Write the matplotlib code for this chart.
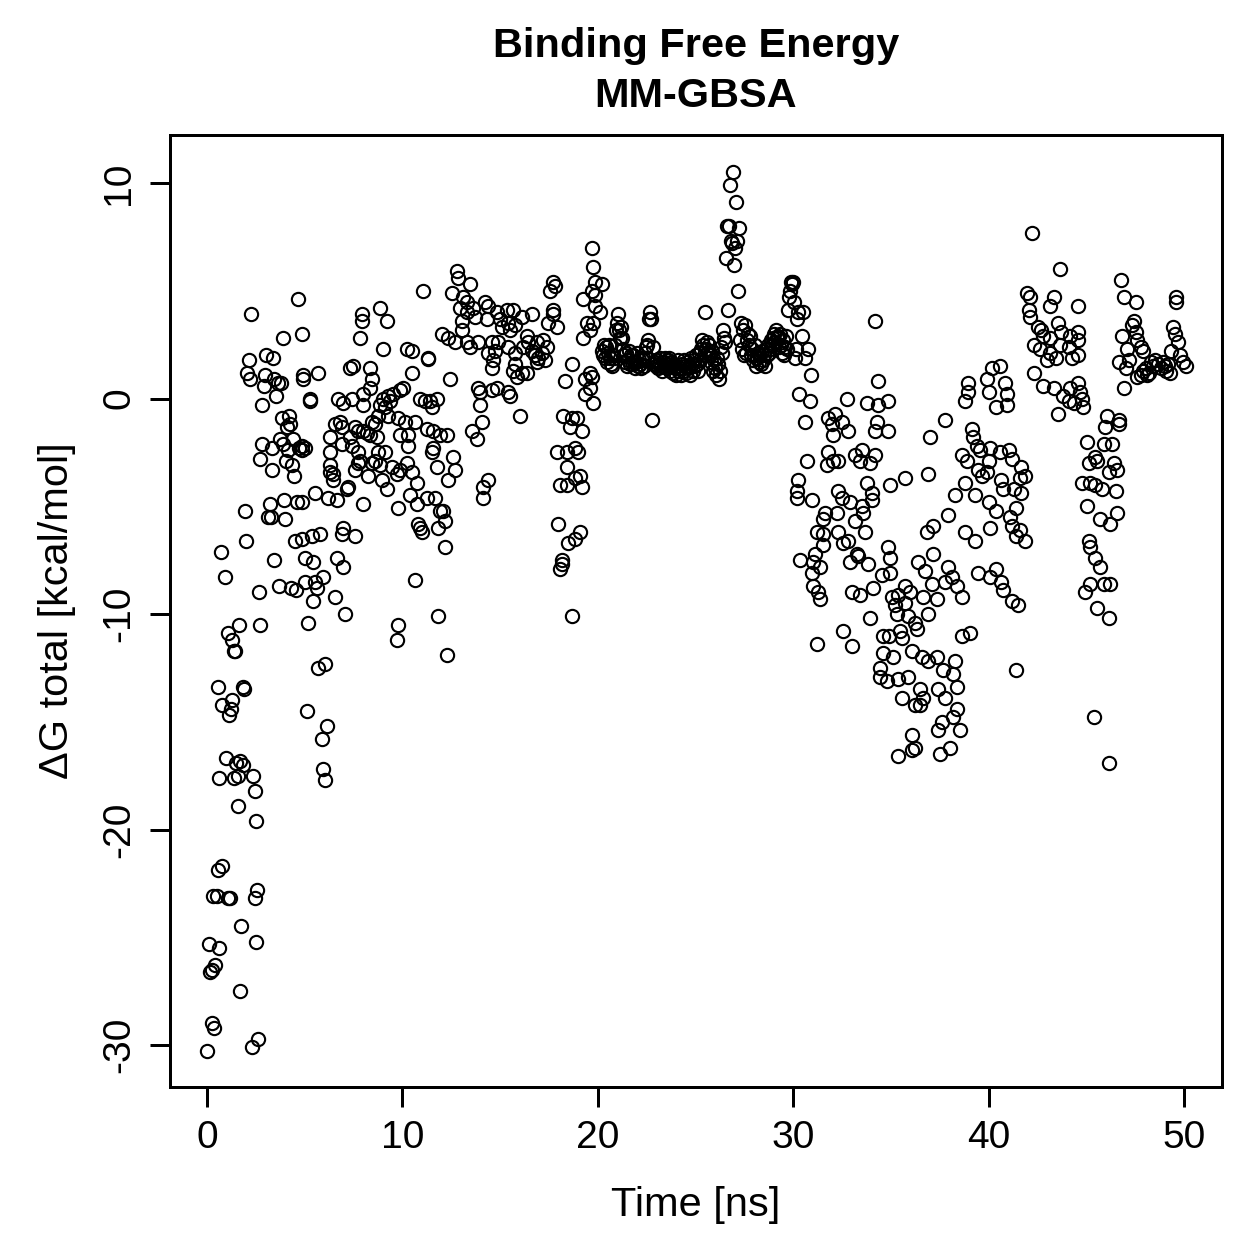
import matplotlib
matplotlib.use('Agg')
import matplotlib.pyplot as plt

plt.rcParams['font.family'] = ['Liberation Sans', 'DejaVu Sans']

# (time [ns], dG total [kcal/mol]), grouped by time window
seg_0_3 = [
    (0.00, -30.3), (0.10, -25.3), (0.15, -26.6), (0.26, -26.5), (0.41, -26.3),
    (0.25, -29.0), (0.36, -29.2), (0.61, -25.5), (0.31, -23.1), (0.51, -23.1),
    (0.55, -21.9), (0.77, -21.7), (1.07, -23.2), (1.18, -23.2), (0.56, -13.4),
    (0.77, -14.2), (0.72, -7.1), (0.92, -8.3), (0.61, -17.6), (0.97, -16.7),
    (1.13, -14.7), (1.23, -14.4), (1.28, -14.0), (1.07, -10.9), (1.28, -11.2),
    (1.38, -11.7), (1.43, -11.7), (1.38, -17.6), (1.48, -16.9), (1.59, -17.5),
    (1.64, -10.5), (1.69, -16.8), (1.84, -17.0), (1.59, -18.9), (1.84, -13.4),
    (1.89, -13.5), (1.74, -24.5), (1.69, -27.5), (2.35, -17.5), (2.46, -18.2),
    (2.51, -19.6), (2.46, -23.2), (2.56, -22.8), (2.51, -25.2), (2.30, -30.1),
    (2.61, -29.7), (2.00, -6.6), (1.94, -5.2), (2.05, 1.2), (2.15, 1.8),
    (2.20, 0.9), (2.25, 3.9), (2.66, -9.0), (2.71, -10.5), (2.81, -2.1),
    (2.71, -2.8), (2.81, -0.3), (2.92, 0.6), (3.02, 2.0), (2.97, 1.1),
]

seg_3_5 = [
    (3.12, -5.5), (3.22, -4.9), (3.28, -5.5), (3.33, -3.3), (3.35, -2.3),
    (3.43, -7.5), (3.45, 0.9), (3.38, 1.9), (3.53, 0.1), (3.63, 0.7),
    (3.74, -1.9), (3.79, 0.7), (3.84, -0.9), (3.89, -2.1), (3.90, 2.8),
    (3.94, -4.7), (3.99, -5.6), (4.04, -2.9), (4.09, -1.3), (4.15, -2.4),
    (4.20, -0.8), (4.25, -1.2), (4.30, -8.8), (4.35, -3.1), (4.40, -1.9),
    (4.45, -3.6), (4.50, -6.6), (4.55, -8.9), (4.61, -4.8), (4.66, 4.6),
    (4.71, -2.3), (3.68, -8.7),
]

seg_5_10 = [
    (4.88, 3.0), (7.93, 3.9), (7.95, 3.6), (8.85, 4.2), (9.21, 3.6),
    (7.83, 2.8), (9.01, 2.3), (4.91, 1.1), (4.93, 0.9), (5.68, 1.2),
    (7.32, 1.4), (7.47, 1.5), (8.34, 1.4), (8.44, 0.9), (8.36, 0.5),
    (5.27, 0.0), (5.29, -0.1), (6.70, 0.0), (7.42, 0.0), (7.98, 0.2),
    (6.96, -0.2), (8.00, -0.3), (9.00, 0.0), (9.26, 0.1), (9.52, 0.2),
    (9.37, -0.1), (8.85, -0.3), (9.11, -0.4), (8.75, -0.8), (9.28, -0.8),
    (9.88, 0.4), (9.77, -0.9), (6.55, -1.2), (6.81, -1.1), (6.91, -1.3),
    (7.57, -1.3), (7.73, -1.5), (7.99, -1.5), (8.19, -1.6), (8.35, -1.7),
    (8.60, -1.2), (8.70, -1.8), (8.45, -1.1), (9.89, -1.7), (6.29, -1.8),
    (6.92, -2.1), (7.33, -1.8), (7.43, -2.2), (4.87, -2.2), (5.02, -2.3),
    (4.85, -2.4), (6.30, -2.5), (7.74, -2.5), (8.76, -2.5), (9.12, -2.5),
    (7.84, -2.9), (8.61, -2.9), (6.28, -3.1), (7.72, -3.0), (6.31, -3.4),
    (6.45, -3.5), (7.58, -3.3), (8.43, -3.0), (8.86, -3.1), (9.47, -3.2),
    (9.87, -3.3), (9.72, -3.5), (6.46, -3.8), (8.24, -3.6), (8.96, -3.8),
    (7.22, -4.1), (7.17, -4.2), (9.22, -4.2), (4.86, -4.8), (5.53, -4.4),
    (6.19, -4.6), (6.66, -4.7), (7.97, -4.9), (9.78, -5.1), (4.84, -6.5),
    (5.37, -6.4), (5.78, -6.3), (6.97, -6.0), (6.90, -6.3), (7.59, -6.4),
    (5.03, -7.4), (5.42, -7.6), (6.64, -7.4), (6.95, -7.8), (5.01, -8.5),
    (5.52, -8.5), (5.94, -8.3), (5.63, -8.8), (5.43, -9.4), (6.56, -9.2),
    (5.17, -10.4), (7.06, -10.0), (9.76, -10.5), (9.73, -11.2), (5.69, -12.5),
    (6.04, -12.3), (5.12, -14.5), (6.14, -15.2), (5.89, -15.8), (5.95, -17.2),
    (6.05, -17.7),
]

seg_10_15 = [
    (12.79, 5.9), (12.85, 5.6), (11.05, 5.0), (13.46, 5.3), (12.54, 4.9),
    (13.10, 4.7), (13.31, 4.5), (14.23, 4.5), (12.95, 4.2), (13.61, 4.2),
    (14.38, 4.3), (13.33, 4.0), (13.72, 3.8), (14.33, 3.7), (13.05, 3.6),
    (14.84, 4.0), (13.04, 3.2), (12.03, 3.0), (12.33, 2.8), (12.69, 2.6),
    (13.30, 2.6), (13.45, 2.4), (13.87, 2.6), (14.59, 2.6), (14.74, 2.2),
    (14.40, 2.1), (14.64, 1.8), (14.60, 1.4), (10.24, 2.3), (10.49, 2.2),
    (11.31, 1.9), (11.33, 1.85), (10.50, 1.2), (12.44, 0.9), (10.03, 0.5),
    (13.88, 0.5), (13.97, 0.3), (14.58, 0.4), (13.98, -0.3), (10.90, 0.0),
    (11.16, -0.1), (11.41, -0.1), (11.77, 0.0), (11.51, -0.4), (10.13, -1.1),
    (10.64, -1.1), (10.29, -1.7), (11.26, -1.4), (11.57, -1.5), (11.92, -1.7),
    (12.28, -1.7), (14.07, -1.1), (13.56, -1.5), (13.82, -1.9), (10.30, -2.2),
    (11.58, -2.3), (11.52, -2.5), (12.59, -2.7), (12.70, -3.3), (12.34, -3.8),
    (11.78, -3.2), (10.25, -3.0), (10.48, -3.4), (10.75, -3.9), (10.39, -4.5),
    (11.27, -4.6), (11.67, -4.6), (10.76, -4.9), (11.93, -5.2), (12.08, -5.2),
    (12.18, -5.7), (11.82, -6.0), (10.80, -5.8), (10.91, -6.0), (11.00, -6.2),
    (14.39, -3.8), (14.12, -4.1), (14.13, -4.6), (12.19, -6.9), (10.65, -8.4),
    (11.83, -10.1), (12.29, -11.9),
]

seg_15_20 = [
    (19.70, 7.0), (19.75, 6.1), (17.71, 5.4), (17.81, 5.2), (17.55, 5.0),
    (19.86, 5.4), (19.72, 5.0), (19.24, 4.6), (19.88, 4.8), (19.85, 4.3),
    (15.35, 4.1), (15.66, 4.1), (16.63, 3.9), (16.12, 3.8), (17.72, 4.1),
    (17.70, 3.9), (17.45, 3.5), (17.91, 3.3), (14.99, 3.7), (15.40, 3.5),
    (15.10, 3.3), (15.51, 3.2), (15.76, 3.4), (16.38, 2.9), (16.43, 2.6),
    (16.89, 2.6), (17.20, 2.7), (17.40, 2.4), (14.89, 2.6), (15.42, 2.4),
    (15.78, 2.1), (16.17, 2.4), (16.64, 2.2), (16.79, 2.0), (17.14, 2.1),
    (16.90, 1.7), (16.94, 1.9), (17.30, 1.8), (19.45, 3.5), (19.25, 2.8),
    (19.60, 3.2), (19.77, 3.5), (15.77, 1.6), (15.67, 1.3), (16.13, 1.2),
    (16.37, 1.2), (15.86, 1.0), (18.68, 1.6), (18.32, 0.8), (19.61, 1.2),
    (19.35, 0.9), (19.71, 1.0), (19.59, 0.5), (19.34, 0.2), (19.76, -0.2),
    (14.85, 0.5), (15.41, 0.3), (15.50, 0.1), (16.02, -0.8), (18.22, -0.8),
    (18.69, -0.9), (18.94, -0.9), (18.58, -1.3), (19.19, -1.5), (17.92, -2.5),
    (18.42, -2.5), (18.83, -2.3), (18.99, -2.5), (18.43, -3.2), (18.07, -4.0),
    (18.41, -4.0), (18.84, -3.7), (19.09, -3.6), (19.20, -4.1), (17.96, -5.8),
    (18.48, -6.7), (18.85, -6.5), (19.10, -6.2), (18.17, -7.5), (18.18, -7.7),
    (18.06, -7.9), (18.70, -10.1), (20.21, 5.3), (20.11, 4.0),
]

# 20-30 ns: regularly sampled frames, start time and spacing below
band_t0 = 20.2
band_dt = 0.051
band_dg = [
    2.2, 2.0, 2.5, 1.9, 2.4, 1.7, 2.1, 2.5, 1.9, 1.6, 1.5, 2.0,
    1.9, 2.5, 3.2, 3.5, 3.9, 3.2, 2.8, 3.3, 2.8, 2.3, 2.0, 1.7, 2.1, 1.5, 1.8, 2.2, 1.6, 2.0, 1.7,
    2.0, 1.7, 1.4, 1.7, 2.1, 1.5, 1.8, 1.6, 1.4, 1.8, 1.9, 1.5, 2.1, 2.4, 2.5, 2.7, 3.7, 4.0, 3.7, -1.0, 2.4, 1.6,
    1.7, 1.5, 1.8, 1.4, 1.6, 1.9, 1.5, 1.3, 1.7, 1.5, 1.9, 1.6, 1.4, 1.8, 1.6, 1.9, 1.3, 1.7, 1.5, 1.2,
    1.6, 1.4, 1.1, 1.5, 1.8, 1.3, 1.4, 1.1, 1.6, 1.3, 1.8, 1.5, 1.2, 1.7, 1.4, 1.5, 1.1, 1.9, 1.6, 1.3,
    1.8, 1.5, 2.0, 1.6, 1.3, 2.1, 1.8, 2.3, 2.7, 2.5, 2.0, 4.0, 2.3, 2.6, 2.1, 2.5, 2.0, 1.7, 2.2, 1.3,
    1.8, 1.4, 1.1, 1.9, 1.6, 0.9, 1.3, 2.4, 2.1, 3.2, 2.8, 2.6, 6.5, 8.0, 4.1, 8.0, 9.9, 7.3, 7.2, 10.5,
    6.2, 7.0, 9.1, 7.3, 5.0, 7.9,
    2.7, 3.5, 2.3, 3.2, 2.0, 3.4, 2.1, 2.7, 3.0, 2.5, 2.9, 2.0, 2.3, 1.8, 2.0, 2.5, 1.5, 1.9, 2.1, 1.7,
    2.0, 1.6, 2.2, 1.8, 2.0, 1.5, 2.3, 2.0, 2.5, 2.1, 2.3, 2.7, 2.5, 2.8, 3.0, 2.6, 3.2, 2.8, 2.9, 2.4,
    3.0, 2.5, 2.1, 2.7, 2.0, 2.4, 2.9, 2.3, 4.1, 4.7, 5.0, 5.4, 5.3, 5.4, 4.5, 1.9, 2.3, 3.7, 4.0, 0.2,
]

seg_30_35 = [
    (30.50, 4.0), (34.19, 3.6), (30.45, 2.9), (30.76, 2.3), (30.60, 1.9),
    (30.91, 1.1), (30.86, -0.1), (32.75, 0.0), (33.78, -0.2), (34.34, 0.8),
    (34.36, -0.3), (30.62, -1.1), (31.78, -0.9), (32.14, -0.7), (31.99, -1.2),
    (32.50, -1.1), (32.80, -1.5), (32.04, -1.7), (34.29, -1.1), (34.20, -1.5),
    (30.71, -2.9), (31.79, -2.5), (31.73, -3.1), (32.05, -2.9), (32.29, -2.9),
    (33.16, -2.6), (33.52, -2.4), (33.42, -2.9), (33.93, -3.0), (34.18, -2.6),
    (30.25, -3.8), (30.19, -4.3), (30.20, -4.6), (30.96, -4.7), (32.30, -4.3),
    (32.51, -4.6), (32.91, -4.8), (33.77, -3.9), (34.03, -4.4), (34.04, -4.7),
    (33.53, -5.0), (33.57, -5.3), (31.63, -5.3), (32.24, -5.3), (31.53, -5.6),
    (33.17, -5.7), (31.22, -6.2), (31.54, -6.3), (32.28, -6.2), (32.55, -6.7),
    (32.81, -6.6), (31.52, -6.8), (33.67, -6.2), (30.35, -7.5), (31.12, -7.2),
    (31.01, -7.6), (31.37, -7.8), (30.97, -8.1), (32.90, -7.6), (33.27, -7.2),
    (33.32, -7.3), (33.83, -7.7), (34.54, -8.2), (31.02, -8.7), (31.27, -9.0),
    (31.38, -9.3), (33.01, -9.0), (33.43, -9.1), (34.08, -8.8), (33.94, -10.2),
    (32.56, -10.8), (34.60, -11.0), (31.21, -11.4), (33.00, -11.5), (34.61, -11.8),
    (34.44, -12.5), (34.45, -12.9),
]

seg_35_40 = [
    (38.95, 0.7), (38.96, 0.3), (38.79, -0.1), (37.77, -1.0), (37.00, -1.8),
    (34.85, -0.1), (34.86, -1.5), (39.15, -1.4), (39.20, -1.8), (39.41, -2.2),
    (39.56, -2.4), (38.64, -2.6), (38.89, -2.9), (39.46, -3.3), (39.66, -3.6),
    (38.80, -3.9), (39.30, -4.5), (38.28, -4.5), (36.90, -3.5), (35.72, -3.7),
    (34.95, -4.0), (37.92, -5.4), (37.15, -5.9), (36.85, -6.2), (38.78, -6.2),
    (39.31, -6.6), (34.87, -6.9), (34.96, -7.4), (37.16, -7.2), (36.39, -7.6),
    (36.75, -8.0), (37.93, -7.8), (38.13, -8.3), (39.45, -8.1), (38.38, -8.7),
    (34.97, -8.1), (37.10, -8.6), (37.78, -8.5), (35.73, -8.7), (35.98, -9.0),
    (35.06, -9.2), (35.36, -9.1), (36.64, -9.2), (37.36, -9.3), (38.65, -9.2),
    (35.21, -9.6), (35.71, -9.5), (35.31, -10.0), (35.88, -10.1), (36.90, -10.0),
    (36.23, -10.4), (36.34, -10.7), (34.88, -11.0), (35.47, -10.8), (35.57, -11.1),
    (38.63, -11.0), (39.05, -10.9), (36.08, -11.7), (35.11, -12.0), (36.59, -12.0),
    (36.91, -12.2), (37.37, -12.0), (37.67, -12.6), (38.18, -12.8), (38.29, -12.2),
    (34.80, -13.1), (35.37, -13.0), (35.87, -12.9), (36.49, -13.5), (37.41, -13.5),
    (38.39, -13.4), (35.58, -13.9), (37.76, -13.9), (36.24, -14.2), (36.50, -14.2),
    (36.65, -13.9), (38.37, -14.4), (38.17, -14.8), (37.62, -15.0), (37.42, -15.4),
    (38.54, -15.4), (36.09, -15.6), (36.25, -16.2), (36.07, -16.3), (35.35, -16.6),
    (37.51, -16.5), (38.02, -16.2),
]

seg_40_45 = [
    (42.22, 7.7), (43.65, 6.0), (41.97, 4.9), (42.12, 4.7), (43.35, 4.7),
    (43.14, 4.3), (42.07, 4.1), (42.13, 3.8), (43.55, 3.5), (42.53, 3.3),
    (42.68, 3.2), (42.78, 2.9), (43.71, 3.1), (44.17, 2.9), (43.15, 2.8),
    (42.32, 2.5), (43.66, 2.5), (44.11, 2.4), (42.63, 2.3), (43.16, 2.1),
    (42.99, 1.8), (43.45, 1.9), (44.27, 1.9), (42.33, 1.2), (42.79, 0.6),
    (43.36, 0.5), (44.16, 0.5), (43.81, 0.1), (44.12, -0.1), (44.37, -0.2),
    (43.56, -0.7), (40.17, 1.4), (40.58, 1.5), (39.92, 0.9), (40.84, 0.7),
    (40.02, 0.3), (40.94, 0.2), (40.95, -0.3), (40.38, -0.4), (40.07, -2.3),
    (40.59, -2.5), (41.04, -2.4), (41.20, -2.8), (40.03, -2.9), (39.93, -3.4),
    (41.66, -3.2), (41.86, -3.6), (41.61, -3.7), (40.63, -3.8), (40.74, -4.2),
    (41.30, -4.2), (41.67, -4.4), (40.04, -4.8), (40.39, -5.2), (41.40, -5.1),
    (41.10, -5.5), (41.21, -5.9), (41.62, -6.1), (41.41, -6.4), (41.87, -6.6),
    (40.05, -6.0), (40.37, -7.9), (40.08, -8.3), (40.64, -8.5), (40.73, -8.9),
    (41.19, -9.4), (41.50, -9.6), (41.42, -12.6),
]

seg_45_50 = [
    (46.78, 5.5), (46.93, 4.7), (47.54, 4.5), (49.59, 4.7), (49.60, 4.5),
    (47.44, 3.6), (47.34, 3.4), (47.55, 3.1), (46.83, 2.9), (49.44, 3.3),
    (49.54, 3.0), (49.69, 2.6), (47.59, 2.7), (47.80, 2.4), (47.08, 2.3),
    (47.90, 2.2), (49.33, 2.2), (49.80, 2.0), (46.67, 1.7), (47.19, 1.8),
    (49.95, 1.7), (50.10, 1.5), (48.31, 1.7), (48.67, 1.6), (49.03, 1.5),
    (48.05, 1.4), (47.81, 1.1), (47.60, 1.0), (48.21, 1.2), (49.28, 1.2),
    (47.03, 1.4), (46.92, 0.5), (48.40, 1.5), (48.50, 1.8), (48.80, 1.4),
    (48.90, 1.7), (49.10, 1.3), (49.20, 1.6), (48.10, 1.1), (47.90, 1.3),
    (44.57, 4.3), (44.58, 3.1), (44.56, 2.7), (44.55, 2.0), (44.57, 0.7),
    (44.68, 0.3), (44.78, 0.0), (44.83, -0.4), (46.06, -0.8), (45.96, -1.3),
    (46.66, -1.0), (46.68, -1.2), (45.04, -2.0), (45.91, -2.1), (46.32, -2.1),
    (45.45, -2.7), (45.14, -3.0), (45.55, -2.9), (46.42, -3.0), (46.57, -3.3),
    (46.16, -3.4), (44.79, -3.9), (45.19, -3.9), (45.46, -4.0), (45.80, -4.2),
    (46.52, -4.3), (45.05, -5.0), (46.58, -5.3), (45.70, -5.6), (46.21, -5.8),
    (45.15, -6.6), (45.20, -6.9), (45.44, -7.4), (45.71, -7.8), (45.18, -8.6),
    (45.90, -8.6), (46.22, -8.6), (44.93, -9.0), (45.56, -9.7), (46.17, -10.2),
    (45.39, -14.8), (46.15, -16.9),
]

segments = [seg_0_3, seg_3_5, seg_5_10, seg_10_15, seg_15_20,
            seg_30_35, seg_35_40, seg_40_45, seg_45_50]

x_ticks = [0, 10, 20, 30, 40, 50]
y_ticks = [-30, -20, -10, 0, 10]

fig = plt.figure(figsize=(1259 / 180, 1259 / 180), dpi=180)
ax = fig.add_axes([0.135, 0.1366, 0.8356, 0.7562])

marker_style = dict(linestyle='none', marker='o', ms=5.3, mfc='none',
                    mec='black', mew=0.85)

for seg in segments:
    t, dg = zip(*seg)
    ax.plot(t, dg, **marker_style)

band_t = [band_t0 + band_dt * i for i in range(len(band_dg))]
ax.plot(band_t, band_dg, **marker_style)

ax.set_xlim(-1.894, 51.94)
ax.set_ylim(-31.95, 12.23)
ax.set_xticks(x_ticks)
ax.set_xticklabels([str(v) for v in x_ticks])
ax.set_yticks(y_ticks)
ax.set_yticklabels([str(v) for v in y_ticks], rotation=90, va='center')
ax.tick_params(length=8, width=1.2, labelsize=15.6, pad=5, color='black')

for spine in ax.spines.values():
    spine.set_linewidth(1.2)

ax.set_xlabel('Time [ns]', fontsize=16.6, labelpad=12)
ax.set_ylabel('ΔG total [kcal/mol]', fontsize=16.6, labelpad=10)
ax.set_title('Binding Free Energy\nMM-GBSA', fontsize=16.6, fontweight='bold',
             pad=11, linespacing=1.4)

fig.savefig('out.png', dpi=180)
